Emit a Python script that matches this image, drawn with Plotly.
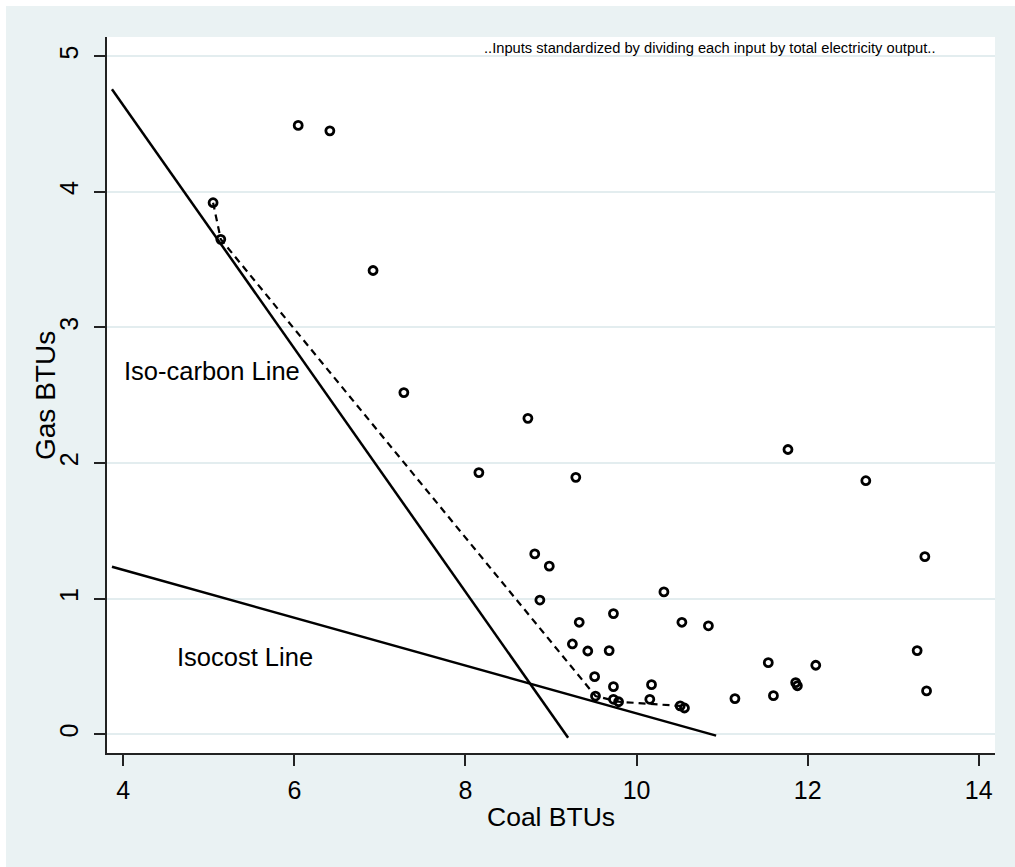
import plotly.graph_objects as go

# ---- data ----
coal_btus = [5.05, 5.14, 6.045, 6.415, 6.92, 7.28, 8.73, 8.157, 9.29, 12.68, 11.77,
             8.81, 8.98, 8.87, 10.32, 9.33, 9.73, 10.53, 10.84, 9.25, 9.43, 9.68,
             9.51, 9.73, 10.175, 9.52, 9.73, 9.79, 10.155, 10.51, 10.56, 11.15,
             11.54, 11.60, 11.86, 11.88, 12.095, 13.28, 13.39, 13.37]
gas_btus = [3.92, 3.65, 4.49, 4.45, 3.42, 2.52, 2.33, 1.93, 1.895, 1.87, 2.10,
            1.33, 1.24, 0.99, 1.05, 0.826, 0.89, 0.826, 0.80, 0.666, 0.614, 0.617,
            0.425, 0.351, 0.366, 0.282, 0.258, 0.24, 0.258, 0.209, 0.194, 0.263,
            0.528, 0.285, 0.381, 0.358, 0.509, 0.617, 0.32, 1.31]

frontier_coal = [5.05, 5.14, 9.52, 9.79, 10.51, 10.56]
frontier_gas = [3.92, 3.65, 0.282, 0.24, 0.209, 0.194]

isocarbon_coal = [3.868, 9.20]
isocarbon_gas = [4.757, -0.025]

isocost_coal = [3.868, 10.93]
isocost_gas = [1.235, -0.01]

x_ticks = [4, 6, 8, 10, 12, 14]
y_ticks = [0, 1, 2, 3, 4, 5]

# ---- layout geometry (pixels) ----
W, H = 1015, 867
L, R, T, B = 107, 995, 37, 753
PW, PH = R - L, B - T

def px_x(p):
    return (p - L) / PW

def px_y(p):
    return (B - p) / PH

BG = "#EAF2F3"
GRID = "#E3EDEF"
FONT = "Liberation Sans, Arial, sans-serif"

fig = go.Figure()

fig.add_trace(go.Scatter(x=isocarbon_coal, y=isocarbon_gas, mode="lines",
                         line=dict(color="black", width=2.5), showlegend=False, hoverinfo="skip"))
fig.add_trace(go.Scatter(x=isocost_coal, y=isocost_gas, mode="lines",
                         line=dict(color="black", width=2.5), showlegend=False, hoverinfo="skip"))
fig.add_trace(go.Scatter(x=frontier_coal, y=frontier_gas, mode="lines",
                         line=dict(color="black", width=2.2, dash="7px,5px"), showlegend=False,
                         hoverinfo="skip"))
fig.add_trace(go.Scatter(x=coal_btus, y=gas_btus, mode="markers",
                         marker=dict(symbol="circle-open", size=8, color="black",
                                     line=dict(color="black", width=2.8)),
                         showlegend=False))

fig.update_layout(
    width=W, height=H,
    margin=dict(l=L, r=W - R, t=T, b=H - B, pad=0),
    paper_bgcolor=BG,
    plot_bgcolor="white",
    font=dict(family=FONT, color="black"),
    xaxis=dict(range=[3.81, 14.19], tickvals=x_ticks, ticks="outside", ticklen=11,
               tickwidth=1.5, tickcolor="#222", showgrid=False, zeroline=False,
               showline=True, linecolor="#222", linewidth=1.5,
               tickfont=dict(size=25, family=FONT), ticklabelstandoff=3),
    yaxis=dict(range=[-0.138, 5.142], tickvals=y_ticks, ticks="outside", ticklen=11,
               tickwidth=1.5, tickcolor="#222", showgrid=True, gridcolor=GRID, gridwidth=2,
               zeroline=False, showline=True, linecolor="#222", linewidth=1.5,
               tickangle=-90, tickfont=dict(size=25, family=FONT), ticklabelstandoff=6),
    shapes=[
        dict(type="rect", xref="paper", yref="paper", x0=px_x(0), x1=px_x(6),
             y0=px_y(H), y1=px_y(0), fillcolor="white", line=dict(width=0), layer="below"),
        dict(type="rect", xref="paper", yref="paper", x0=px_x(0), x1=px_x(W),
             y0=px_y(6), y1=px_y(0), fillcolor="white", line=dict(width=0), layer="below"),
    ],
    annotations=[
        dict(text="Coal BTUs", xref="paper", yref="paper", x=px_x(551), y=px_y(817),
             xanchor="center", yanchor="middle", showarrow=False, font=dict(size=26.5)),
        dict(text="Gas BTUs", xref="paper", yref="paper", x=px_x(45), y=px_y(396),
             xanchor="center", yanchor="middle", showarrow=False, textangle=-90,
             font=dict(size=28)),
        dict(text="Iso-carbon Line", xref="x", yref="y", x=3.985, y=2.68,
             xanchor="left", yanchor="middle", showarrow=False, font=dict(size=25.5)),
        dict(text="Isocost Line", xref="x", yref="y", x=4.60, y=0.57,
             xanchor="left", yanchor="middle", showarrow=False, font=dict(size=25.5)),
        dict(text="..Inputs standardized by dividing each input by total electricity output..",
             xref="paper", yref="paper", x=px_x(938), y=px_y(48),
             xanchor="right", yanchor="middle", showarrow=False, font=dict(size=14.7)),
    ],
)

fig.write_html("out.html", config={"displayModeBar": False},
               post_script="document.body.style.margin='0';document.body.style.overflow='hidden';")
